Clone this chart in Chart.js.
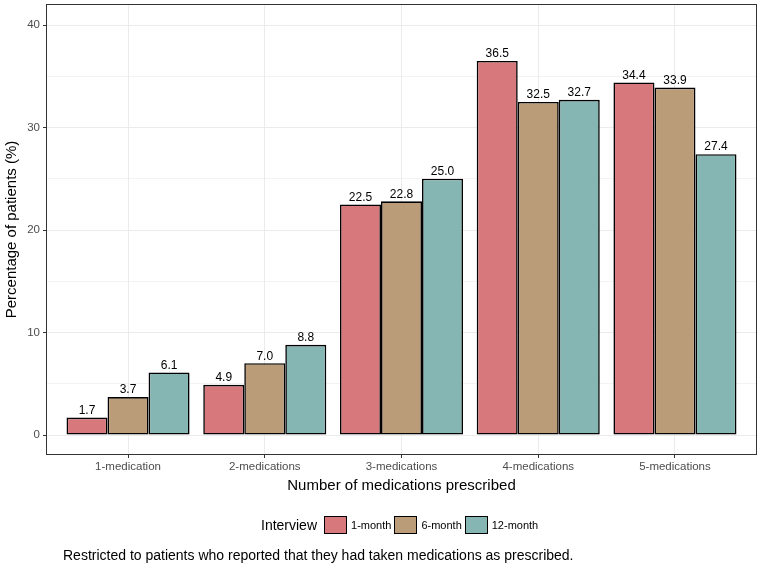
<!DOCTYPE html>
<html>
<head>
<meta charset="utf-8">
<script src="https://cdn.jsdelivr.net/npm/chart.js@4/dist/chart.umd.min.js"></script>
<style>
  body { margin: 0; background: #fff; font-family: "Liberation Sans", Arial, sans-serif; }
  #wrap { position: relative; width: 764px; height: 569px; }
  #legend { position: absolute; left: 261px; top: 516px; height: 18px; display: flex; align-items: center; font-size: 11px; color: #000; }
  #legend .title { font-size: 14px; margin-right: 7px; }
  #legend .key { width: 21px; height: 16px; border: 1px solid #000; margin-right: 4px; }
  #legend .lab { margin-right: 3px; }
  #caption { position: absolute; left: 63px; top: 547px; font-size: 14px; color: #000; }
</style>
</head>
<body>
<div id="wrap">
  <canvas id="myChart" width="764" height="569"></canvas>
  <div id="legend"></div>
  <div id="caption">Restricted to patients who reported that they had taken medications as prescribed.</div>
</div>
<script>
const categories = ['1-medication', '2-medications', '3-medications', '4-medications', '5-medications'];
const seriesNames = ['1-month', '6-month', '12-month'];
const month1 = [1.7, 4.9, 22.5, 36.5, 34.4];
const month6 = [3.7, 7.0, 22.8, 32.5, 33.9];
const month12 = [6.1, 8.8, 25.0, 32.7, 27.4];
const yTicks = [0, 10, 20, 30, 40];
const colors = ['#d7797c', '#bb9c79', '#86b6b3'];

const seriesValues = [month1, month6, month12];
const datasets = seriesNames.map((name, i) => ({
  label: name,
  data: seriesValues[i].map((v, j) => ({ x: j + 1, y: v })),
  backgroundColor: colors[i],
  borderColor: '#000',
  borderWidth: 1.6,
  borderSkipped: false,
  categoryPercentage: 0.9,
  barPercentage: 1.0
}));

// value labels above each bar
const barLabels = {
  id: 'barLabels',
  afterDatasetsDraw(chart) {
    const ctx = chart.ctx;
    ctx.save();
    ctx.font = '12px "Liberation Sans", Arial, sans-serif';
    ctx.fillStyle = '#000';
    ctx.textAlign = 'center';
    ctx.textBaseline = 'bottom';
    chart.data.datasets.forEach((ds, i) => {
      chart.getDatasetMeta(i).data.forEach((bar, j) => {
        ctx.fillText(ds.data[j].y.toFixed(1), bar.x, bar.y - 1);
      });
    });
    ctx.restore();
  }
};

// ggplot style panel border
const panelBorder = {
  id: 'panelBorder',
  afterDraw(chart) {
    const a = chart.chartArea;
    const ctx = chart.ctx;
    ctx.save();
    ctx.strokeStyle = '#333';
    ctx.lineWidth = 1;
    ctx.strokeRect(Math.round(a.left) + 0.5, Math.round(a.top) + 0.5, Math.round(a.right - a.left) - 1, Math.round(a.bottom - a.top) - 1);
    ctx.restore();
  }
};

const font = '"Liberation Sans", Arial, sans-serif';

new Chart('myChart', {
  type: 'bar',
  data: { datasets },
  plugins: [barLabels, panelBorder],
  options: {
    responsive: false,
    animation: false,
    layout: { padding: { left: 0, top: 4, right: 7, bottom: 74 } },
    plugins: {
      legend: { display: false },
      tooltip: { enabled: false }
    },
    scales: {
      x: {
        type: 'linear',
        offset: false,
        min: 0.4,
        max: 5.6,
        afterFit(scale) {
          scale.height = 40;
          scale.paddingLeft = 0;
          scale.paddingRight = 0;
        },
        afterBuildTicks(scale) {
          scale.ticks = categories.map((c, i) => ({ value: i + 1 }));
        },
        border: { display: false },
        grid: { offset: false, color: '#ebebeb', lineWidth: 1, tickLength: 3, tickColor: '#333' },
        ticks: {
          padding: 2,
          color: '#4d4d4d',
          font: { family: font, size: 11.5 },
          maxRotation: 0,
          callback: (v) => categories[v - 1] || ''
        },
        title: {
          display: true,
          text: 'Number of medications prescribed',
          color: '#000',
          font: { family: font, size: 15 },
          padding: { top: 0, bottom: 0 }
        }
      },
      y: {
        min: -1.95,
        max: 42.05,
        afterFit(scale) {
          scale.width = 46;
          scale.paddingTop = 0;
          scale.paddingBottom = 0;
        },
        afterBuildTicks(scale) {
          const t = [];
          for (let v = 0; v <= 40; v += 5) t.push({ value: v });
          scale.ticks = t;
        },
        border: { display: false },
        grid: {
          color: '#ebebeb',
          lineWidth: (c) => (c.tick && yTicks.includes(c.tick.value)) ? 1 : 0.6,
          tickLength: 3,
          tickColor: (c) => (c.tick && yTicks.includes(c.tick.value)) ? '#333' : 'rgba(0,0,0,0)'
        },
        ticks: {
          padding: 3,
          color: '#4d4d4d',
          font: { family: font, size: 11.5 },
          callback: (v) => yTicks.includes(v) ? String(v) : ''
        },
        title: {
          display: true,
          text: 'Percentage of patients (%)',
          color: '#000',
          font: { family: font, size: 15 },
          padding: { top: 3, bottom: 0 }
        }
      }
    }
  }
});

// legend built from the series arrays
const legend = document.getElementById('legend');
legend.innerHTML = '<span class="title">Interview</span>' + seriesNames.map((n, i) =>
  '<span class="key" style="background:' + colors[i] + '"></span><span class="lab">' + n + '</span>'
).join('');
</script>
</body>
</html>
